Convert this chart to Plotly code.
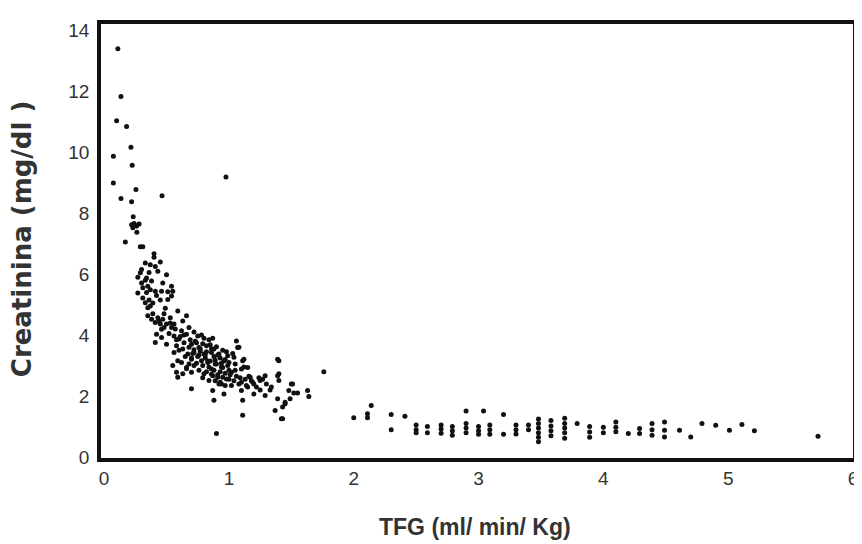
import plotly.graph_objects as go

# --- data ---
tfg_high = [0.11, 0.135, 0.10, 0.18, 0.215, 0.074, 0.225, 0.976, 0.074, 0.255, 0.464, 0.135,
            0.22, 0.233, 0.22, 0.24, 0.26, 0.28, 0.23, 0.262, 0.17, 0.29, 0.31, 0.40, 0.40]
creat_high = [13.39, 11.82, 11.03, 10.84, 10.16, 9.86, 9.57, 9.18, 8.99, 8.77, 8.57, 8.48,
              8.37, 7.88, 7.62, 7.66, 7.58, 7.64, 7.52, 7.37, 7.05, 6.90, 6.90, 6.67, 6.55]

tfg_mid = [0.33, 0.37, 0.41, 0.43, 0.29, 0.50, 0.27, 0.34, 0.38, 0.47, 0.30, 0.35, 0.54, 0.37,
           0.41, 0.46, 0.51, 0.55, 0.27, 0.31, 0.54, 0.51, 0.33, 0.35, 0.49, 0.59, 0.66, 0.35,
           0.38, 0.43, 0.47, 0.53, 0.63, 0.41, 0.45, 0.50, 0.56, 0.68, 0.46, 0.54, 0.62, 0.66,
           0.75, 0.80, 0.87, 0.42, 0.46, 0.56, 0.60, 0.41, 0.50, 0.58, 1.06, 0.70, 0.76, 0.82,
           0.88, 1.07, 0.63, 0.56, 0.67, 0.72, 0.80, 0.86, 0.92, 0.99, 1.39, 1.04, 1.11, 0.59,
           0.70, 0.78, 0.83, 0.90, 0.55, 0.66, 0.72, 0.86, 0.95, 1.02, 1.10, 1.15, 0.58, 0.63,
           0.70, 0.80, 0.87, 0.91, 0.98, 1.17, 1.29, 1.39, 0.59, 0.84, 0.94, 1.02, 1.10, 1.20,
           1.25, 1.51, 0.70, 1.10, 1.20, 1.29, 0.87, 0.96, 1.39, 1.45, 1.37, 1.43, 1.11, 0.88,
           1.11, 0.90,
           0.72, 0.78, 0.84, 0.74, 0.79, 0.85, 0.90, 0.95, 0.98, 1.03, 0.68, 0.72, 0.77, 0.82,
           0.88, 0.93, 0.97, 1.00, 1.05, 1.08, 1.12, 1.12, 0.65, 0.70, 0.75, 0.81, 0.85, 0.89,
           0.94, 0.99, 0.62, 0.68, 0.74, 0.79, 0.84, 0.88, 0.93, 0.97, 1.01, 1.06, 1.13, 1.18,
           0.76, 0.82, 0.86, 0.91, 0.95, 1.00, 1.04, 1.08, 1.15, 0.89, 0.93, 0.97, 1.22, 1.25,
           1.30, 1.33, 1.16, 1.24, 0.60, 0.64, 0.58, 0.52, 0.48, 0.44, 0.39, 0.37, 0.36, 0.42,
           0.45, 0.34, 0.31, 0.33, 0.30, 0.36, 0.45, 0.39, 0.48, 0.53, 0.57, 0.61, 0.64, 0.69,
           0.73, 0.77, 0.81, 0.86, 0.91, 0.96, 0.71, 0.76, 0.83, 0.89, 0.94, 1.00, 1.05, 0.66,
           0.79, 0.92, 1.09, 1.14, 1.19, 1.27, 1.34,
           1.40, 1.40, 1.40, 1.76, 1.50, 1.48, 1.52, 1.55, 1.63, 1.64, 1.49, 1.45, 1.43, 1.42]
creat_mid = [6.36, 6.31, 6.25, 6.09, 6.04, 5.98, 5.90, 5.87, 5.77, 5.71, 5.71, 5.60, 5.60, 5.49,
             5.44, 5.44, 5.42, 5.44, 5.38, 5.22, 5.28, 5.17, 5.06, 4.90, 4.88, 4.79, 4.63, 4.63,
             4.52, 4.57, 4.52, 4.57, 4.46, 4.41, 4.36, 4.36, 4.36, 4.25, 4.19, 4.25, 4.14, 4.03,
             3.97, 3.90, 3.90, 4.03, 3.92, 3.97, 3.87, 3.76, 3.70, 3.65, 3.81, 3.70, 3.59, 3.65,
             3.54, 3.59, 3.54, 3.43, 3.38, 3.43, 3.38, 3.43, 3.38, 3.32, 3.21, 3.27, 3.16, 3.16,
             3.21, 3.16, 3.10, 3.05, 3.00, 2.94, 3.00, 2.89, 2.94, 2.78, 2.89, 2.94, 2.78, 2.73,
             2.78, 2.73, 2.67, 2.62, 2.56, 2.62, 2.67, 2.67, 2.62, 2.51, 2.40, 2.35, 2.45, 2.40,
             2.51, 2.40, 2.24, 2.18, 2.07, 2.02, 2.18, 2.07, 1.91, 1.75, 1.53, 1.26, 1.86, 1.86,
             1.37, 0.77,
             4.10, 4.00, 3.85, 3.75, 3.72, 3.68, 3.62, 3.50, 3.45, 3.40, 3.60, 3.52, 3.48, 3.45,
             3.30, 3.25, 3.20, 3.10, 3.05, 3.60, 3.21, 2.95, 3.30, 3.25, 3.30, 3.25, 3.15, 3.18,
             3.08, 3.00, 3.10, 3.05, 3.08, 3.00, 2.95, 2.85, 2.80, 2.75, 2.70, 2.65, 2.55, 2.50,
             2.85, 2.80, 2.72, 2.70, 2.62, 2.55, 2.50, 2.40, 2.30, 2.50, 2.45, 2.35, 2.30, 2.20,
             2.40, 2.20, 2.65, 2.60, 3.50, 3.75, 3.85, 4.05, 4.25, 4.45, 4.70, 4.95, 5.15, 5.30,
             5.15, 5.40, 5.55, 5.80, 6.15, 6.05, 6.40, 5.05, 4.70, 4.40, 4.20, 3.95, 4.00, 3.85,
             3.80, 3.55, 3.35, 3.55, 3.35, 3.15, 3.40, 3.35, 3.15, 3.05, 2.95, 2.85, 2.85, 2.90,
             2.60, 2.40, 2.60, 2.35, 2.45, 2.55, 2.30,
             3.16, 2.73, 2.51, 2.80, 2.40, 2.18, 2.10, 2.10, 2.18, 1.99, 1.91, 1.80, 1.64, 1.26]

tfg_tail = [2.00, 2.11, 2.11, 2.14, 2.30, 2.41, 2.30,
            2.50, 2.50, 2.50, 2.59, 2.59, 2.70, 2.70, 2.70, 2.79, 2.79, 2.79,
            2.90, 2.90, 2.90, 2.90, 3.00, 3.00, 3.00, 3.04, 3.09, 3.09, 3.09,
            3.20, 3.20, 3.30, 3.30, 3.30, 3.40, 3.40, 3.48, 3.48, 3.48, 3.48, 3.48, 3.48,
            3.58, 3.58, 3.58, 3.58, 3.69, 3.69, 3.69, 3.69, 3.69, 3.79, 3.89, 3.89, 3.89,
            4.00, 4.00, 4.10, 4.10, 4.10, 4.20, 4.29, 4.29, 4.39, 4.39, 4.39,
            4.49, 4.49, 4.49, 4.61, 4.70, 4.79, 4.90, 5.01, 5.11, 5.21, 5.72]
creat_tail = [1.29, 1.42, 1.29, 1.69, 1.40, 1.34, 0.90,
              1.05, 0.90, 0.80, 1.00, 0.80, 1.05, 0.92, 0.78, 1.00, 0.86, 0.72,
              1.51, 1.10, 0.95, 0.80, 1.00, 0.86, 0.75, 1.51, 1.05, 0.90, 0.75,
              1.40, 0.75, 1.05, 0.90, 0.76, 1.05, 0.90, 1.25, 1.10, 0.95, 0.80, 0.65, 0.50,
              1.20, 1.02, 0.86, 0.70, 1.27, 1.10, 0.95, 0.80, 0.62, 1.10, 1.00, 0.82, 0.65,
              0.98, 0.80, 1.15, 0.98, 0.83, 0.77, 0.94, 0.77, 1.10, 0.90, 0.72,
              1.15, 0.88, 0.66, 0.88, 0.66, 1.10, 1.04, 0.88, 1.07, 0.86, 0.68]

x_ticks = [0, 1, 2, 3, 4, 5, 6]
y_ticks = [0, 2, 4, 6, 8, 10, 12, 14]

fig = go.Figure()
for xs, ys in [(tfg_high, creat_high), (tfg_mid, creat_mid), (tfg_tail, creat_tail)]:
    fig.add_trace(go.Scatter(x=xs, y=ys, mode="markers",
                             marker=dict(size=5, color="#111111"),
                             showlegend=False, cliponaxis=False))

axis_common = dict(showgrid=False, zeroline=False, showline=True, mirror=True,
                   linecolor="#111111", linewidth=3.5, ticks="",
                   tickfont=dict(family="Liberation Sans, Arial, sans-serif", size=19, color="#333333"))

fig.update_xaxes(range=[-0.025, 6.0], tickvals=x_ticks, ticktext=[str(v) for v in x_ticks],
                 ticklabelstandoff=0, **axis_common)
fig.update_yaxes(range=[-0.03, 14.2], tickvals=y_ticks, ticktext=[str(v) for v in y_ticks],
                 ticklabelstandoff=4, **axis_common)

fig.add_annotation(text="Creatinina (mg/dl )", xref="paper", yref="paper",
                   x=-0.104, y=0.506, xanchor="center", yanchor="middle",
                   textangle=-90, showarrow=False,
                   font=dict(family="DejaVu Sans, Verdana, sans-serif", size=26, color="#333333",
                             weight="bold"))
fig.add_annotation(text="TFG (ml/ min/ Kg)", xref="paper", yref="paper",
                   x=0.498, y=-0.160, xanchor="center", yanchor="middle", showarrow=False,
                   font=dict(family="Liberation Sans, Arial, sans-serif", size=23,
                             color="#333333", weight="bold"))

fig.update_layout(width=862, height=544, plot_bgcolor="white", paper_bgcolor="white",
                  margin=dict(l=93, r=12, t=13, b=94))

fig.write_html("out.html")
